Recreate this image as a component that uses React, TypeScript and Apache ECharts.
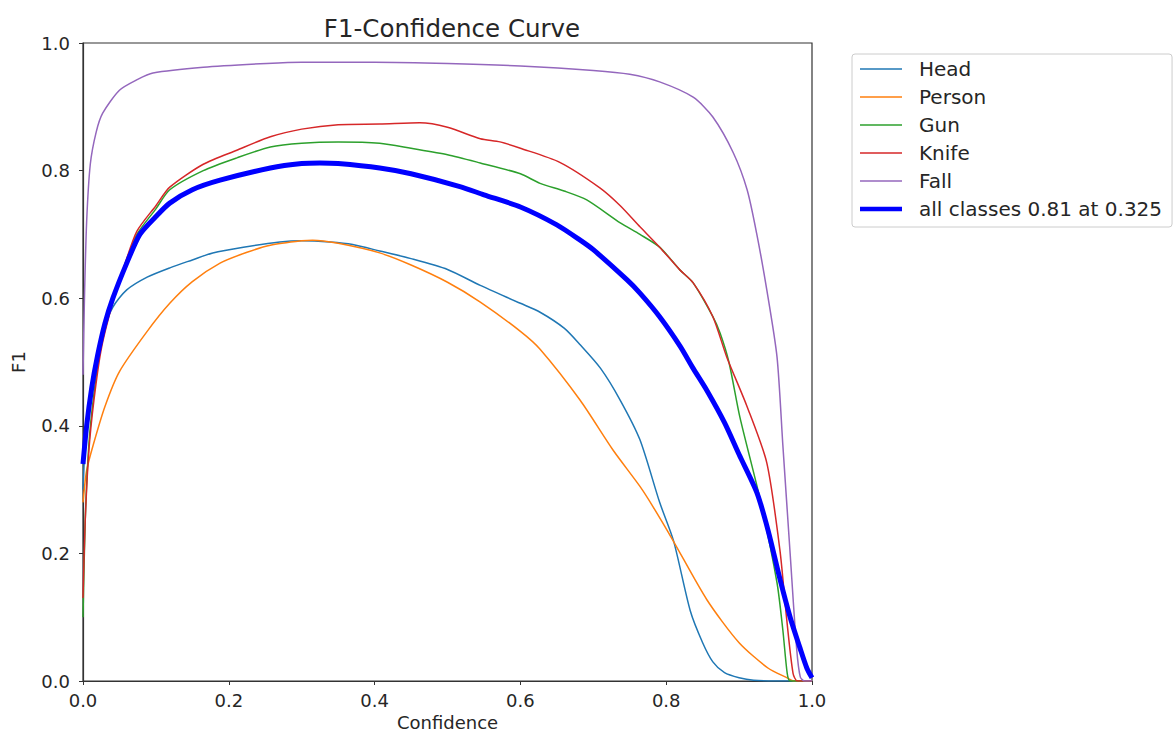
import React, { useEffect, useRef } from "react";
import * as echarts from "echarts";

const xTicks = [0, 0.2, 0.4, 0.6, 0.8, 1.0];
const yTicks = [0, 0.2, 0.4, 0.6, 0.8, 1.0];

const seriesNames = ["Head", "Person", "Gun", "Knife", "Fall", "all classes 0.81 at 0.325"];
const seriesColors = ["#1f77b4", "#ff7f0e", "#2ca02c", "#d62728", "#9467bd", "#0000ff"];

const headData: [number, number][] = [
  [0, 0.3], [0.005, 0.41], [0.014, 0.48], [0.025, 0.54], [0.041, 0.586], [0.06, 0.613],
  [0.088, 0.633], [0.12, 0.648], [0.15, 0.66], [0.178, 0.671], [0.22, 0.68], [0.27, 0.688],
  [0.3, 0.69], [0.339, 0.688], [0.37, 0.684], [0.407, 0.674], [0.45, 0.662], [0.5, 0.645],
  [0.545, 0.62], [0.6, 0.592], [0.627, 0.578], [0.66, 0.553], [0.682, 0.527], [0.71, 0.49],
  [0.737, 0.44], [0.764, 0.378], [0.791, 0.28], [0.81, 0.22], [0.833, 0.11], [0.85, 0.06],
  [0.864, 0.03], [0.88, 0.013], [0.9, 0.005], [0.92, 0.001], [0.95, 0], [1.0, 0],
];

const personData: [number, number][] = [
  [0, 0.28], [0.005, 0.33], [0.014, 0.37], [0.03, 0.43], [0.05, 0.485], [0.088, 0.548],
  [0.119, 0.592], [0.15, 0.626], [0.188, 0.655], [0.225, 0.672], [0.257, 0.683], [0.3, 0.69],
  [0.315, 0.691], [0.35, 0.686], [0.407, 0.671], [0.45, 0.652], [0.5, 0.625], [0.545, 0.594],
  [0.6, 0.548], [0.627, 0.52], [0.682, 0.44], [0.727, 0.362], [0.764, 0.305], [0.782, 0.273],
  [0.809, 0.221], [0.856, 0.127], [0.9, 0.06], [0.94, 0.02], [0.966, 0.005], [0.975, 0], [1.0, 0],
];

const gunData: [number, number][] = [
  [0, 0.1], [0.003, 0.25], [0.008, 0.37], [0.015, 0.45], [0.025, 0.53], [0.04, 0.6],
  [0.055, 0.645], [0.074, 0.7], [0.1, 0.74], [0.119, 0.77], [0.165, 0.8], [0.211, 0.82],
  [0.257, 0.837], [0.3, 0.843], [0.35, 0.845], [0.407, 0.843], [0.45, 0.835], [0.5, 0.825],
  [0.545, 0.812], [0.6, 0.795], [0.627, 0.78], [0.66, 0.768], [0.691, 0.754], [0.737, 0.718],
  [0.764, 0.7], [0.791, 0.68], [0.819, 0.644], [0.837, 0.624], [0.864, 0.571], [0.874, 0.545],
  [0.886, 0.5], [0.901, 0.414], [0.929, 0.284], [0.952, 0.154], [0.96, 0.08], [0.966, 0.012],
  [0.97, 0], [1.0, 0],
];

const knifeData: [number, number][] = [
  [0, 0.13], [0.003, 0.25], [0.008, 0.36], [0.015, 0.44], [0.025, 0.52], [0.04, 0.59],
  [0.055, 0.645], [0.074, 0.705], [0.1, 0.745], [0.119, 0.774], [0.165, 0.81], [0.211, 0.832],
  [0.257, 0.853], [0.3, 0.865], [0.35, 0.872], [0.407, 0.873], [0.462, 0.875], [0.5, 0.868],
  [0.545, 0.85], [0.572, 0.845], [0.6, 0.835], [0.654, 0.813], [0.709, 0.773], [0.737, 0.745],
  [0.764, 0.712], [0.791, 0.68], [0.819, 0.644], [0.837, 0.624], [0.864, 0.571], [0.883, 0.508],
  [0.911, 0.43], [0.938, 0.342], [0.956, 0.205], [0.965, 0.1], [0.974, 0.012], [0.98, 0], [1.0, 0],
];

const fallData: [number, number][] = [
  [0, 0.48], [0.002, 0.6], [0.005, 0.72], [0.01, 0.81], [0.018, 0.86], [0.027, 0.89],
  [0.05, 0.926], [0.075, 0.943], [0.096, 0.953], [0.165, 0.962], [0.252, 0.968], [0.3, 0.97],
  [0.4, 0.97], [0.5, 0.968], [0.6, 0.964], [0.7, 0.957], [0.75, 0.951], [0.791, 0.939],
  [0.837, 0.915], [0.864, 0.884], [0.892, 0.828], [0.911, 0.77], [0.924, 0.702], [0.938, 0.613],
  [0.952, 0.508], [0.96, 0.37], [0.97, 0.2], [0.979, 0.05], [0.984, 0.006], [0.99, 0], [1.0, 0],
];

const allClassesData: [number, number][] = [
  [0, 0.34], [0.005, 0.4], [0.012, 0.46], [0.02, 0.51], [0.03, 0.56], [0.041, 0.6],
  [0.06, 0.655], [0.078, 0.7], [0.1, 0.728], [0.119, 0.749], [0.15, 0.77], [0.188, 0.785],
  [0.257, 0.804], [0.3, 0.811], [0.325, 0.812], [0.35, 0.811], [0.407, 0.804], [0.45, 0.795],
  [0.517, 0.775], [0.55, 0.762], [0.6, 0.743], [0.65, 0.715], [0.682, 0.691], [0.7, 0.676],
  [0.746, 0.629], [0.764, 0.608], [0.791, 0.571], [0.819, 0.525], [0.837, 0.49], [0.856, 0.455],
  [0.88, 0.405], [0.9, 0.355], [0.9245, 0.295], [0.94, 0.235], [0.956, 0.16], [0.97, 0.1],
  [0.984, 0.05], [0.993, 0.02], [1.0, 0.005],
];

const allData = [headData, personData, gunData, knifeData, fallData, allClassesData];

const FONT = "DejaVu Sans";
const TEXT = "#262626";
const THIN_ICON = "path://M0 0H100V3.6H0Z";
const THICK_ICON = "path://M0 0H100V11H0Z";

export default function App() {
  const ref = useRef<HTMLDivElement>(null);
  useEffect(() => {
    if (!ref.current) return;
    const chart = echarts.init(ref.current, undefined, { renderer: "svg" });
    const series = seriesNames.map((name, i) => ({
      name,
      type: "line",
      data: allData[i],
      symbol: "none",
      smooth: 0.25,
      z: i === 5 ? 10 : 2 + i,
      lineStyle: { color: seriesColors[i], width: i === 5 ? 5 : 1.5, join: "round" },
      itemStyle: { color: seriesColors[i] },
    }));
    chart.setOption({
      animation: false,
      backgroundColor: "#ffffff",
      title: {
        text: "F1-Confidence Curve",
        left: 447,
        top: 11,
        textAlign: "center",
        textStyle: { fontFamily: FONT, fontSize: 24.5, fontWeight: "normal", color: TEXT },
      },
      legend: {
        orient: "vertical",
        left: 852,
        top: 54,
        itemWidth: 42,
        itemHeight: 14,
        itemGap: 8,
        symbolKeepAspect: true,
        padding: [5, 10, 8, 8],
        borderColor: "#cccccc",
        borderWidth: 1,
        borderRadius: 3,
        textStyle: { fontFamily: FONT, fontSize: 20, lineHeight: 20, color: TEXT, padding: [0, 0, 0, 12] },
        data: seriesNames.map((name, i) => ({
          name,
          icon: i === 5 ? THICK_ICON : THIN_ICON,
          itemStyle: { color: seriesColors[i] },
        })),
      },
      grid: {
        left: 83,
        right: 361,
        top: 43,
        bottom: 56,
        show: true,
        borderColor: "#333333",
        borderWidth: 1.2,
        backgroundColor: "#ffffff",
      },
      xAxis: {
        type: "value",
        min: 0,
        max: 1,
        interval: 0.2,
        name: "Confidence",
        nameLocation: "middle",
        nameGap: 32,
        nameTextStyle: { fontFamily: FONT, fontSize: 18, color: TEXT },
        axisLine: { show: true, onZero: false, lineStyle: { color: "#333333", width: 1.2 } },
        axisTick: { show: true, inside: false, length: 4, lineStyle: { color: "#333333" } },
        axisLabel: {
          margin: 10,
          fontFamily: FONT,
          fontSize: 18,
          color: TEXT,
          formatter: (v: number) => (xTicks.includes(Math.round(v * 10) / 10) ? v.toFixed(1) : ""),
        },
        splitLine: { show: false },
      },
      yAxis: {
        type: "value",
        min: 0,
        max: 1,
        interval: 0.2,
        name: "F1",
        nameLocation: "middle",
        nameGap: 56,
        nameTextStyle: { fontFamily: FONT, fontSize: 18, color: TEXT },
        axisLine: { show: true, onZero: false, lineStyle: { color: "#333333", width: 1.2 } },
        axisTick: { show: true, inside: false, length: 4, lineStyle: { color: "#333333" } },
        axisLabel: {
          margin: 13,
          fontFamily: FONT,
          fontSize: 18,
          color: TEXT,
          formatter: (v: number) => (yTicks.includes(Math.round(v * 10) / 10) ? v.toFixed(1) : ""),
        },
        splitLine: { show: false },
      },
      series,
    });
    return () => chart.dispose();
  }, []);
  return (
    <div
      ref={ref}
      style={{ position: "fixed", left: 0, top: 0, width: 1173, height: 737, background: "#fff" }}
    />
  );
}
